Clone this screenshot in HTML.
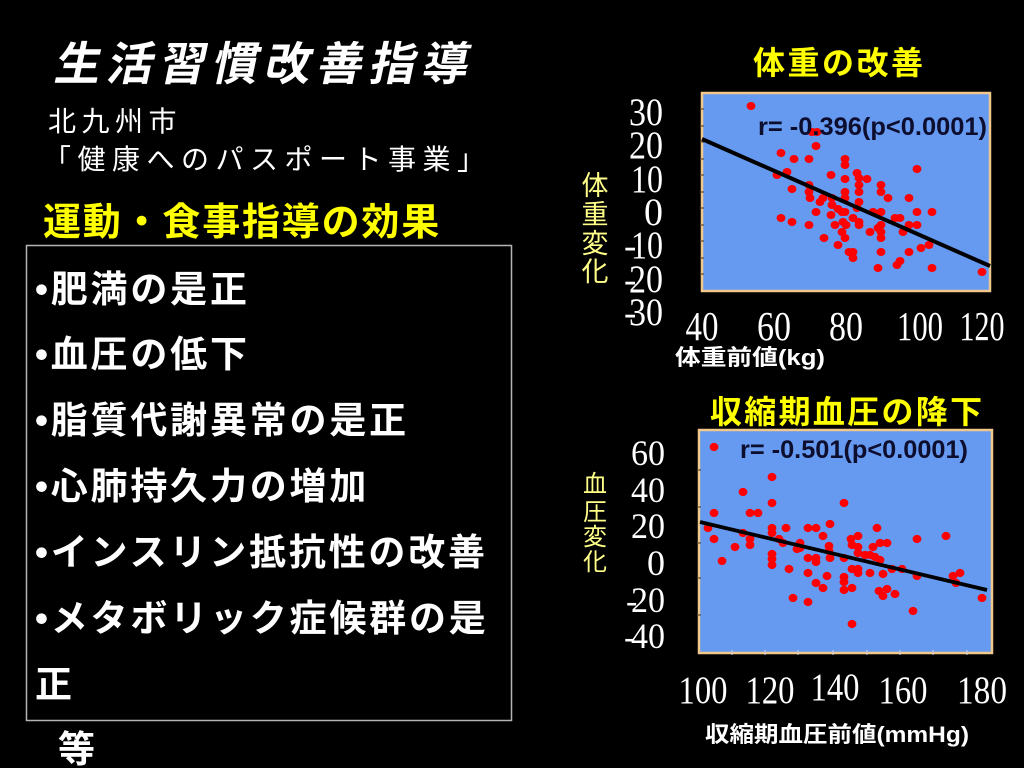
<!DOCTYPE html>
<html><head><meta charset="utf-8"><style>
html,body{margin:0;padding:0;background:#000;}
svg{display:block;}
.jp{font-family:"Liberation Sans","Noto Sans CJK JP",sans-serif;}
.sr{font-family:"Liberation Serif",serif;fill:#fff;}
</style></head><body>
<svg width="1024" height="768" viewBox="0 0 1024 768" xmlns="http://www.w3.org/2000/svg">
<rect width="1024" height="768" fill="#000"/>
<!-- Left side -->
<text class="jp" transform="translate(53,80) skewX(-12)" x="0" y="0" font-size="46" font-weight="bold" fill="#fff" letter-spacing="6.5">生活習慣改善指導</text>
<text class="jp" x="48" y="131" font-size="28" fill="#fff" letter-spacing="5.5">北九州市</text>
<text class="jp" x="43" y="169" font-size="28" fill="#fff" letter-spacing="6.5">「健康へのパスポート事業」</text>
<text class="jp" x="43" y="235" font-size="38" font-weight="bold" fill="#ffff00" letter-spacing="1.8">運動・食事指導の効果</text>
<rect x="26.5" y="245.5" width="485" height="475" fill="none" stroke="#b4b4b4" stroke-width="1.5"/>
<g class="jp" font-size="37" font-weight="bold" fill="#fff" letter-spacing="2.8">
<text x="35" y="302">•肥満の是正</text>
<text x="35" y="367">•血圧の低下</text>
<text x="35" y="433">•脂質代謝異常の是正</text>
<text x="35" y="499">•心肺持久力の増加</text>
<text x="35" y="565">•インスリン抵抗性の改善</text>
<text x="35" y="631">•メタボリック症候群の是</text>
<text x="35" y="697">正</text>
<text x="58" y="762">等</text>
</g>

<!-- Chart 1 -->
<text class="jp" x="753" y="74" font-size="32" font-weight="bold" fill="#ffff00" letter-spacing="2.5">体重の改善</text>
<rect x="702" y="93" width="288" height="198" fill="#6699f0" stroke="#f0c88c" stroke-width="2.5"/>
<g stroke="#5a4a30" stroke-width="1.2">
<line x1="700" y1="109" x2="704" y2="109"/><line x1="700" y1="126" x2="704" y2="126"/><line x1="700" y1="142" x2="704" y2="142"/><line x1="700" y1="159" x2="704" y2="159"/><line x1="700" y1="175" x2="704" y2="175"/><line x1="700" y1="192" x2="704" y2="192"/><line x1="700" y1="208" x2="704" y2="208"/><line x1="700" y1="225" x2="704" y2="225"/><line x1="700" y1="241" x2="704" y2="241"/><line x1="700" y1="258" x2="704" y2="258"/><line x1="700" y1="274" x2="704" y2="274"/>
</g>
<g class="sr" font-size="39" text-anchor="end">
<text x="663" y="125" textLength="34" lengthAdjust="spacingAndGlyphs">30</text>
<text x="663" y="158" textLength="34" lengthAdjust="spacingAndGlyphs">20</text>
<text x="663" y="192" textLength="32" lengthAdjust="spacingAndGlyphs">10</text>
<text x="663" y="225" textLength="19" lengthAdjust="spacingAndGlyphs">0</text>
<text x="663" y="258" textLength="32" lengthAdjust="spacingAndGlyphs">10</text>
<text x="663" y="292" textLength="34" lengthAdjust="spacingAndGlyphs">20</text>
<text x="663" y="325" textLength="34" lengthAdjust="spacingAndGlyphs">30</text>
</g>
<g class="sr" font-size="37">
<text x="624" y="258">-</text>
<text x="624" y="292">-</text>
<text x="624" y="325">-</text>
</g>
<g class="sr" font-size="41" text-anchor="middle">
<text x="702" y="340" textLength="33" lengthAdjust="spacingAndGlyphs">40</text>
<text x="774" y="340" textLength="34" lengthAdjust="spacingAndGlyphs">60</text>
<text x="846" y="340" textLength="34" lengthAdjust="spacingAndGlyphs">80</text>
<text x="920" y="340" textLength="46" lengthAdjust="spacingAndGlyphs">100</text>
<text x="982" y="340" textLength="45" lengthAdjust="spacingAndGlyphs">120</text>
</g>
<text class="jp" x="675" y="365" font-size="22" font-weight="bold" fill="#fff" textLength="150" lengthAdjust="spacingAndGlyphs">体重前値(kg)</text>
<g class="jp" font-size="27" fill="#ffff88" text-anchor="middle">
<text x="595" y="195">体</text>
<text x="595" y="224">重</text>
<text x="595" y="253">変</text>
<text x="595" y="281">化</text>
</g>
<g fill="#ff0000">
<ellipse cx="751" cy="106" rx="4.4" ry="4"/>
<ellipse cx="812" cy="132" rx="4.4" ry="4"/><ellipse cx="817" cy="132" rx="4.4" ry="4"/>
<ellipse cx="816" cy="146" rx="4.4" ry="4"/>
<ellipse cx="781" cy="153" rx="4.4" ry="4"/>
<ellipse cx="794" cy="159" rx="4.4" ry="4"/><ellipse cx="809" cy="159" rx="4.4" ry="4"/><ellipse cx="845" cy="159" rx="4.4" ry="4"/>
<ellipse cx="845" cy="165" rx="4.4" ry="4"/>
<ellipse cx="917" cy="169" rx="4.4" ry="4"/>
<ellipse cx="777" cy="175" rx="4.4" ry="4"/><ellipse cx="787" cy="172" rx="4.4" ry="4"/><ellipse cx="831" cy="175" rx="4.4" ry="4"/><ellipse cx="857" cy="173" rx="4.4" ry="4"/>
<ellipse cx="859" cy="178" rx="4.4" ry="4"/><ellipse cx="867" cy="179" rx="4.4" ry="4"/><ellipse cx="845" cy="179" rx="4.4" ry="4"/>
<ellipse cx="809" cy="185" rx="4.4" ry="4"/><ellipse cx="859" cy="185" rx="4.4" ry="4"/><ellipse cx="881" cy="185" rx="4.4" ry="4"/>
<ellipse cx="792" cy="189" rx="4.4" ry="4"/>
<ellipse cx="809" cy="192" rx="4.4" ry="4"/><ellipse cx="845" cy="192" rx="4.4" ry="4"/><ellipse cx="859" cy="192" rx="4.4" ry="4"/><ellipse cx="881" cy="192" rx="4.4" ry="4"/>
<ellipse cx="810" cy="198" rx="4.4" ry="4"/><ellipse cx="820" cy="202" rx="4.4" ry="4"/><ellipse cx="823" cy="198" rx="4.4" ry="4"/><ellipse cx="832" cy="198" rx="4.4" ry="4"/><ellipse cx="845" cy="198" rx="4.4" ry="4"/><ellipse cx="888" cy="198" rx="4.4" ry="4"/><ellipse cx="909" cy="198" rx="4.4" ry="4"/>
<ellipse cx="859" cy="202" rx="4.4" ry="4"/><ellipse cx="857" cy="208" rx="4.4" ry="4"/>
<ellipse cx="832" cy="205" rx="4.4" ry="4"/>
<ellipse cx="838" cy="209" rx="4.4" ry="4"/><ellipse cx="845" cy="212" rx="4.4" ry="4"/><ellipse cx="842" cy="212" rx="4.4" ry="4"/>
<ellipse cx="816" cy="212" rx="4.4" ry="4"/>
<ellipse cx="831" cy="215" rx="4.4" ry="4"/>
<ellipse cx="873" cy="212" rx="4.4" ry="4"/><ellipse cx="881" cy="212" rx="4.4" ry="4"/><ellipse cx="917" cy="212" rx="4.4" ry="4"/><ellipse cx="932" cy="212" rx="4.4" ry="4"/>
<ellipse cx="781" cy="218" rx="4.4" ry="4"/>
<ellipse cx="792" cy="222" rx="4.4" ry="4"/>
<ellipse cx="809" cy="225" rx="4.4" ry="4"/>
<ellipse cx="835" cy="225" rx="4.4" ry="4"/><ellipse cx="843" cy="222" rx="4.4" ry="4"/><ellipse cx="846" cy="225" rx="4.4" ry="4"/>
<ellipse cx="853" cy="218" rx="4.4" ry="4"/>
<ellipse cx="859" cy="222" rx="4.4" ry="4"/><ellipse cx="859" cy="225" rx="4.4" ry="4"/>
<ellipse cx="895" cy="218" rx="4.4" ry="4"/><ellipse cx="900" cy="218" rx="4.4" ry="4"/>
<ellipse cx="881" cy="225" rx="4.4" ry="4"/><ellipse cx="878" cy="228" rx="4.4" ry="4"/>
<ellipse cx="870" cy="232" rx="4.4" ry="4"/><ellipse cx="881" cy="232" rx="4.4" ry="4"/>
<ellipse cx="909" cy="225" rx="4.4" ry="4"/><ellipse cx="917" cy="225" rx="4.4" ry="4"/>
<ellipse cx="903" cy="232" rx="4.4" ry="4"/>
<ellipse cx="842" cy="232" rx="4.4" ry="4"/>
<ellipse cx="824" cy="238" rx="4.4" ry="4"/><ellipse cx="845" cy="238" rx="4.4" ry="4"/><ellipse cx="881" cy="238" rx="4.4" ry="4"/>
<ellipse cx="838" cy="245" rx="4.4" ry="4"/>
<ellipse cx="849" cy="252" rx="4.4" ry="4"/><ellipse cx="853" cy="252" rx="4.4" ry="4"/>
<ellipse cx="853" cy="258" rx="4.4" ry="4"/>
<ellipse cx="881" cy="252" rx="4.4" ry="4"/>
<ellipse cx="909" cy="252" rx="4.4" ry="4"/>
<ellipse cx="921" cy="248" rx="4.4" ry="4"/><ellipse cx="929" cy="245" rx="4.4" ry="4"/>
<ellipse cx="878" cy="268" rx="4.4" ry="4"/>
<ellipse cx="897" cy="265" rx="4.4" ry="4"/><ellipse cx="900" cy="261" rx="4.4" ry="4"/>
<ellipse cx="932" cy="268" rx="4.4" ry="4"/>
<ellipse cx="982" cy="272" rx="4.4" ry="4"/>
</g>
<line x1="702" y1="139" x2="990" y2="266" stroke="#000" stroke-width="4"/>
<text x="758" y="135" font-family="Liberation Sans, sans-serif" font-size="25" font-weight="bold" fill="#0d0d2e" textLength="229" lengthAdjust="spacingAndGlyphs">r= -0.396(p&lt;0.0001)</text>

<!-- Chart 2 -->
<text class="jp" x="710" y="423" font-size="32" font-weight="bold" fill="#ffff00" letter-spacing="2.3">収縮期血圧の降下</text>
<rect x="699" y="430" width="293" height="223" fill="#6699f0" stroke="#f0c88c" stroke-width="2.5"/>
<g stroke="#5a4a30" stroke-width="1.2">
<line x1="697" y1="470" x2="701" y2="470"/><line x1="697" y1="507" x2="701" y2="507"/><line x1="697" y1="543" x2="701" y2="543"/><line x1="697" y1="578" x2="701" y2="578"/><line x1="697" y1="615" x2="701" y2="615"/>
</g>
<g stroke="#c8d4f0" stroke-width="1">
<line x1="732" y1="650" x2="732" y2="655"/><line x1="765" y1="650" x2="765" y2="655"/><line x1="798" y1="650" x2="798" y2="655"/><line x1="833" y1="650" x2="833" y2="655"/><line x1="867" y1="650" x2="867" y2="655"/><line x1="900" y1="650" x2="900" y2="655"/><line x1="933" y1="650" x2="933" y2="655"/><line x1="967" y1="650" x2="967" y2="655"/>
</g>
<g class="sr" font-size="36" text-anchor="end">
<text x="665" y="465" textLength="34" lengthAdjust="spacingAndGlyphs">60</text>
<text x="665" y="502" textLength="34" lengthAdjust="spacingAndGlyphs">40</text>
<text x="665" y="538" textLength="34" lengthAdjust="spacingAndGlyphs">20</text>
<text x="665" y="575" textLength="18" lengthAdjust="spacingAndGlyphs">0</text>
<text x="665" y="612" textLength="34" lengthAdjust="spacingAndGlyphs">20</text>
<text x="665" y="648" textLength="34" lengthAdjust="spacingAndGlyphs">40</text>
</g>
<g class="sr" font-size="34">
<text x="626" y="612">-</text>
<text x="624" y="648">-</text>
</g>
<g class="sr" font-size="39" text-anchor="middle">
<text x="703" y="703" textLength="49" lengthAdjust="spacingAndGlyphs">100</text>
<text x="770" y="703" textLength="49" lengthAdjust="spacingAndGlyphs">120</text>
<text x="835" y="700" textLength="49" lengthAdjust="spacingAndGlyphs">140</text>
<text x="903" y="703" textLength="49" lengthAdjust="spacingAndGlyphs">160</text>
<text x="982" y="703" textLength="50" lengthAdjust="spacingAndGlyphs">180</text>
</g>
<text class="jp" x="705" y="742" font-size="22" font-weight="bold" fill="#fff" textLength="264" lengthAdjust="spacingAndGlyphs">収縮期血圧前値(mmHg)</text>
<g class="jp" font-size="24" fill="#ffff88" text-anchor="middle">
<text x="595" y="492">血</text>
<text x="595" y="520">圧</text>
<text x="595" y="545">変</text>
<text x="595" y="570">化</text>
</g>
<g fill="#ff0000">
<ellipse cx="714" cy="447" rx="4.4" ry="4.1"/>
<ellipse cx="772" cy="477" rx="4.4" ry="4.1"/>
<ellipse cx="743" cy="492" rx="4.4" ry="4.1"/>
<ellipse cx="772" cy="503" rx="4.4" ry="4.1"/>
<ellipse cx="844" cy="503" rx="4.4" ry="4.1"/>
<ellipse cx="714" cy="513" rx="4.4" ry="4.1"/>
<ellipse cx="750" cy="513" rx="4.4" ry="4.1"/><ellipse cx="758" cy="513" rx="4.4" ry="4.1"/>
<ellipse cx="708" cy="528" rx="4.4" ry="4.1"/>
<ellipse cx="743" cy="533" rx="4.4" ry="4.1"/>
<ellipse cx="772" cy="528" rx="4.4" ry="4.1"/><ellipse cx="772" cy="533" rx="4.4" ry="4.1"/>
<ellipse cx="786" cy="528" rx="4.4" ry="4.1"/>
<ellipse cx="808" cy="528" rx="4.4" ry="4.1"/><ellipse cx="816" cy="528" rx="4.4" ry="4.1"/>
<ellipse cx="830" cy="524" rx="4.4" ry="4.1"/>
<ellipse cx="877" cy="528" rx="4.4" ry="4.1"/>
<ellipse cx="714" cy="539" rx="4.4" ry="4.1"/>
<ellipse cx="750" cy="539" rx="4.4" ry="4.1"/><ellipse cx="750" cy="545" rx="4.4" ry="4.1"/>
<ellipse cx="779" cy="539" rx="4.4" ry="4.1"/><ellipse cx="783" cy="543" rx="4.4" ry="4.1"/>
<ellipse cx="823" cy="536" rx="4.4" ry="4.1"/>
<ellipse cx="851" cy="539" rx="4.4" ry="4.1"/><ellipse cx="858" cy="536" rx="4.4" ry="4.1"/>
<ellipse cx="917" cy="539" rx="4.4" ry="4.1"/>
<ellipse cx="946" cy="536" rx="4.4" ry="4.1"/>
<ellipse cx="735" cy="547" rx="4.4" ry="4.1"/>
<ellipse cx="800" cy="543" rx="4.4" ry="4.1"/><ellipse cx="800" cy="548" rx="4.4" ry="4.1"/><ellipse cx="797" cy="549" rx="4.4" ry="4.1"/>
<ellipse cx="829" cy="546" rx="4.4" ry="4.1"/><ellipse cx="829" cy="551" rx="4.4" ry="4.1"/>
<ellipse cx="852" cy="545" rx="4.4" ry="4.1"/><ellipse cx="858" cy="547" rx="4.4" ry="4.1"/>
<ellipse cx="873" cy="547" rx="4.4" ry="4.1"/>
<ellipse cx="880" cy="543" rx="4.4" ry="4.1"/><ellipse cx="887" cy="543" rx="4.4" ry="4.1"/>
<ellipse cx="772" cy="554" rx="4.4" ry="4.1"/><ellipse cx="772" cy="559" rx="4.4" ry="4.1"/><ellipse cx="772" cy="565" rx="4.4" ry="4.1"/>
<ellipse cx="808" cy="558" rx="4.4" ry="4.1"/><ellipse cx="816" cy="558" rx="4.4" ry="4.1"/><ellipse cx="816" cy="562" rx="4.4" ry="4.1"/>
<ellipse cx="830" cy="558" rx="4.4" ry="4.1"/>
<ellipse cx="844" cy="558" rx="4.4" ry="4.1"/>
<ellipse cx="858" cy="553" rx="4.4" ry="4.1"/><ellipse cx="865" cy="555" rx="4.4" ry="4.1"/>
<ellipse cx="870" cy="555" rx="4.4" ry="4.1"/><ellipse cx="875" cy="557" rx="4.4" ry="4.1"/>
<ellipse cx="880" cy="560" rx="4.4" ry="4.1"/>
<ellipse cx="722" cy="561" rx="4.4" ry="4.1"/>
<ellipse cx="789" cy="569" rx="4.4" ry="4.1"/>
<ellipse cx="852" cy="569" rx="4.4" ry="4.1"/><ellipse cx="858" cy="569" rx="4.4" ry="4.1"/><ellipse cx="858" cy="573" rx="4.4" ry="4.1"/>
<ellipse cx="870" cy="573" rx="4.4" ry="4.1"/>
<ellipse cx="892" cy="569" rx="4.4" ry="4.1"/>
<ellipse cx="902" cy="569" rx="4.4" ry="4.1"/>
<ellipse cx="808" cy="573" rx="4.4" ry="4.1"/>
<ellipse cx="827" cy="576" rx="4.4" ry="4.1"/>
<ellipse cx="844" cy="577" rx="4.4" ry="4.1"/><ellipse cx="844" cy="582" rx="4.4" ry="4.1"/>
<ellipse cx="883" cy="574" rx="4.4" ry="4.1"/>
<ellipse cx="917" cy="576" rx="4.4" ry="4.1"/>
<ellipse cx="953" cy="576" rx="4.4" ry="4.1"/><ellipse cx="960" cy="573" rx="4.4" ry="4.1"/>
<ellipse cx="956" cy="583" rx="4.4" ry="4.1"/>
<ellipse cx="816" cy="583" rx="4.4" ry="4.1"/>
<ellipse cx="823" cy="588" rx="4.4" ry="4.1"/>
<ellipse cx="844" cy="590" rx="4.4" ry="4.1"/><ellipse cx="852" cy="588" rx="4.4" ry="4.1"/>
<ellipse cx="879" cy="591" rx="4.4" ry="4.1"/><ellipse cx="883" cy="596" rx="4.4" ry="4.1"/><ellipse cx="887" cy="589" rx="4.4" ry="4.1"/>
<ellipse cx="895" cy="594" rx="4.4" ry="4.1"/>
<ellipse cx="793" cy="598" rx="4.4" ry="4.1"/>
<ellipse cx="808" cy="602" rx="4.4" ry="4.1"/>
<ellipse cx="913" cy="611" rx="4.4" ry="4.1"/>
<ellipse cx="982" cy="598" rx="4.4" ry="4.1"/>
<ellipse cx="852" cy="624" rx="4.4" ry="4.1"/>
</g>
<line x1="700" y1="522" x2="987" y2="590" stroke="#000" stroke-width="3.8"/>
<text x="740" y="458" font-family="Liberation Sans, sans-serif" font-size="25" font-weight="bold" fill="#0d0d2e" textLength="228" lengthAdjust="spacingAndGlyphs">r= -0.501(p&lt;0.0001)</text>
</svg>
</body></html>
